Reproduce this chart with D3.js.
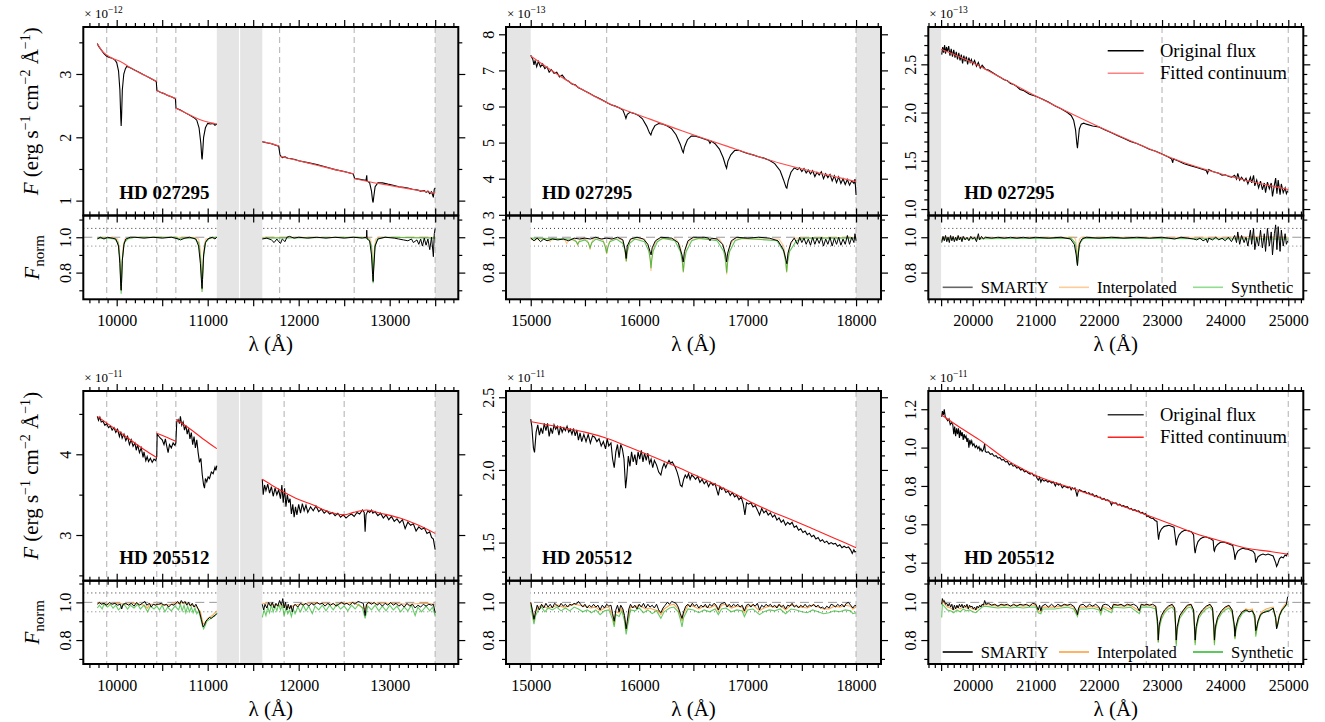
<!DOCTYPE html>
<html>
<head>
<meta charset="utf-8">
<script src="https://cdn.jsdelivr.net/npm/d3@7"></script>
<style>
body { margin: 0; background: #fff; }
svg { font-family: "Liberation Serif", "DejaVu Serif", serif; }
</style>
</head>
<body>
<svg id="chart" width="1325" height="722"></svg>
<script>
// ---- Data (wavelength in Angstrom, flux in units of the panel exponent) ----
var stars = ["HD 027295", "HD 205512"];
var exponents = [["−12", "−13", "−13"], ["−11", "−11", "−11"]];
var colTicks = [[10000, 11000, 12000, 13000], [15000, 16000, 17000, 18000], [20000, 21000, 22000, 23000, 24000, 25000]];
var grayBands = [[[11100, 11350], [11350, 11600], [13500, 13760]], [[14760, 15000], [18000, 18240]], [[19290, 19500]]];
var dashLines = [
  [[9890, 10440, 10650, 11790, 12610, 13500], [15700, 18000], [21000, 23000, 25000]],
  [[9890, 10440, 10650, 11840, 12500, 13500], [15700, 18000], [21000, 22750, 25000]]
];
var legendTop = ["Original flux", "Fitted continuum"];
var legendBottom = ["SMARTY", "Interpolated", "Synthetic"];

// HD 027295, 9800-13500
var r1c1Flux = [[9787,3.48],[9800,3.44],[9830,3.38],[9860,3.32],[9890,3.28],[9920,3.26],[9950,3.25],[9980,3.22],[10000,3.18],[10020,3.05],[10035,2.75],[10045,2.30],[10049,2.18],[10053,2.30],[10062,2.75],[10078,3.00],[10095,3.08],[10110,3.12],[10130,3.11],[10160,3.09],[10200,3.06],[10240,3.03],[10280,3.00],[10320,2.97],[10360,2.94],[10400,2.91],[10435,2.88],[10442,2.74],[10480,2.71],[10520,2.69],[10560,2.66],[10600,2.64],[10645,2.61],[10652,2.46],[10700,2.43],[10750,2.39],[10800,2.35],[10850,2.31],[10880,2.27],[10905,2.15],[10925,1.90],[10935,1.68],[10939,1.65],[10944,1.75],[10955,2.00],[10975,2.15],[11000,2.22],[11030,2.21],[11060,2.22],[11080,2.19],[11100,2.21], null,
  [11600,1.93],[11630,1.92],[11660,1.91],[11700,1.90],[11740,1.88],[11780,1.86],[11795,1.72],[11820,1.68],[11850,1.69],[11880,1.67],[11920,1.66],[11960,1.65],[12000,1.63],[12100,1.60],[12200,1.57],[12300,1.53],[12400,1.49],[12500,1.46],[12600,1.42],[12615,1.35],[12660,1.34],[12700,1.33],[12740,1.32],[12748,1.40],[12752,1.31],[12780,1.28],[12800,1.15],[12812,1.00],[12818,0.97],[12824,1.05],[12840,1.22],[12870,1.28],[12920,1.28],[12980,1.26],[13050,1.24],[13100,1.22],[13150,1.21],[13200,1.20],[13250,1.18],[13300,1.17],[13340,1.15],[13380,1.16],[13400,1.13],[13420,1.15],[13440,1.11],[13460,1.14],[13480,1.05],[13490,1.18],[13500,1.20]];
var r1c1Cont = [[9787,3.48],[9830,3.38],[9890,3.30],[9950,3.25],[10050,3.19],[10150,3.10],[10250,3.02],[10350,2.95],[10440,2.88], null, [10440,2.74],[10550,2.67],[10650,2.61], null, [10650,2.46],[10750,2.39],[10850,2.32],[10950,2.26],[11100,2.21], null, [11600,1.93],[11700,1.90],[11790,1.86], null, [11790,1.70],[12000,1.63],[12200,1.56],[12400,1.49],[12610,1.42], null, [12610,1.35],[12800,1.29],[13000,1.24],[13200,1.19],[13500,1.12]];
var r1c1Smarty = [[9787,0.99],[9820,1.0],[9860,0.99],[9900,1.0],[9950,0.995],[9990,0.99],[10020,0.95],[10035,0.85],[10045,0.72],[10049,0.70],[10053,0.74],[10062,0.87],[10080,0.96],[10100,0.99],[10150,1.0],[10200,1.0],[10300,0.995],[10400,1.0],[10500,0.995],[10600,1.0],[10680,0.99],[10700,0.985],[10750,0.995],[10800,1.0],[10870,0.99],[10900,0.95],[10920,0.85],[10933,0.74],[10938,0.71],[10943,0.76],[10955,0.90],[10975,0.97],[11000,0.99],[11050,1.0],[11080,0.99],[11100,1.0], null,
  [11600,0.99],[11650,0.995],[11700,0.985],[11730,0.97],[11760,0.99],[11780,0.975],[11800,0.965],[11820,0.99],[11850,0.975],[11870,1.0],[11900,1.005],[11950,0.995],[12000,1.0],[12100,0.995],[12200,1.0],[12300,0.995],[12400,1.0],[12500,0.995],[12600,1.0],[12700,0.995],[12745,1.0],[12748,1.04],[12752,0.99],[12780,0.98],[12800,0.9],[12812,0.79],[12818,0.75],[12824,0.82],[12840,0.95],[12870,0.99],[12950,1.0],[13050,0.995],[13100,0.99],[13150,0.985],[13200,0.98],[13240,0.99],[13260,0.97],[13300,0.985],[13320,0.96],[13340,0.99],[13360,0.95],[13380,0.995],[13400,0.955],[13420,0.99],[13440,0.93],[13460,1.0],[13480,0.89],[13490,1.02],[13500,1.05]];
var r1c1Interp = [[9787,0.995],[9950,1.0],[10010,0.99],[10030,0.94],[10042,0.80],[10049,0.70],[10056,0.80],[10068,0.94],[10090,0.99],[10200,1.0],[10850,1.0],[10900,0.99],[10920,0.93],[10932,0.80],[10938,0.70],[10944,0.80],[10956,0.93],[10978,0.99],[11100,1.0], null, [11600,1.0],[12760,1.0],[12790,0.99],[12805,0.93],[12813,0.82],[12818,0.76],[12823,0.82],[12831,0.93],[12846,0.99],[12880,1.0],[13500,1.0]];
var r1c1Synth = [[9787,0.995],[9900,0.995],[9980,0.99],[10015,0.97],[10035,0.88],[10044,0.76],[10049,0.68],[10054,0.76],[10063,0.88],[10083,0.97],[10120,0.99],[10200,1.0],[10660,1.0],[10680,0.985],[10700,0.995],[10850,0.995],[10900,0.97],[10922,0.88],[10933,0.76],[10938,0.69],[10943,0.76],[10954,0.88],[10976,0.97],[11020,0.995],[11100,1.0], null, [11600,0.995],[12700,1.0],[12770,0.99],[12800,0.95],[12811,0.85],[12818,0.74],[12825,0.85],[12836,0.95],[12866,0.99],[12950,1.0],[13500,0.995]];

// HD 027295, 15000-18000
var r1c2Flux = [[15000,7.42],[15020,7.30],[15030,7.15],[15040,7.28],[15055,7.10],[15070,7.25],[15090,7.10],[15110,7.18],[15130,7.05],[15150,7.10],[15170,6.95],[15190,7.02],[15215,6.92],[15240,6.95],[15265,6.82],[15290,6.87],[15320,6.75],[15350,6.70],[15380,6.62],[15410,6.60],[15440,6.52],[15470,6.48],[15500,6.43],[15540,6.37],[15580,6.30],[15620,6.24],[15660,6.18],[15700,6.11],[15740,6.05],[15780,6.01],[15820,5.96],[15850,5.90],[15868,5.76],[15878,5.67],[15890,5.78],[15915,5.84],[15950,5.81],[15990,5.76],[16030,5.66],[16070,5.45],[16095,5.27],[16108,5.21],[16120,5.33],[16145,5.47],[16180,5.53],[16220,5.51],[16260,5.46],[16300,5.38],[16340,5.22],[16380,4.95],[16400,4.76],[16407,4.72],[16418,4.88],[16445,5.08],[16480,5.18],[16520,5.18],[16560,5.14],[16600,5.10],[16640,5.06],[16653,4.98],[16665,5.04],[16700,4.97],[16740,4.82],[16775,4.58],[16795,4.38],[16806,4.29],[16818,4.48],[16845,4.66],[16880,4.78],[16920,4.79],[16960,4.74],[17000,4.70],[17050,4.66],[17100,4.61],[17150,4.57],[17200,4.51],[17250,4.42],[17300,4.22],[17330,3.98],[17355,3.76],[17362,3.74],[17375,3.95],[17400,4.18],[17430,4.30],[17460,4.25],[17480,4.30],[17500,4.20],[17520,4.28],[17540,4.16],[17560,4.24],[17580,4.13],[17600,4.22],[17620,4.06],[17640,4.18],[17660,4.10],[17680,4.19],[17700,4.00],[17720,4.14],[17740,4.03],[17760,4.12],[17780,3.94],[17800,4.08],[17820,3.89],[17840,4.05],[17860,3.87],[17880,4.00],[17900,3.84],[17920,3.98],[17940,3.82],[17960,3.94],[17980,3.87],[17990,3.99],[18000,3.55]];
var r1c2Cont = [[15000,7.40],[15350,6.69],[15700,6.11],[16100,5.65],[16400,5.32],[16800,4.91],[17300,4.43],[17700,4.13],[18000,3.92]];
var r1c2Smarty = [[15000,0.995],[15030,0.98],[15060,0.995],[15090,0.975],[15120,0.99],[15150,0.98],[15200,0.99],[15250,0.985],[15300,0.99],[15350,0.98],[15400,0.995],[15450,0.99],[15500,0.995],[15550,0.99],[15600,1.0],[15650,0.99],[15700,0.995],[15750,0.99],[15800,1.0],[15850,0.985],[15870,0.93],[15880,0.88],[15890,0.95],[15920,0.99],[15980,1.0],[16040,0.99],[16080,0.96],[16100,0.92],[16110,0.90],[16120,0.94],[16150,0.98],[16200,1.0],[16300,0.995],[16360,0.97],[16395,0.90],[16406,0.86],[16418,0.92],[16450,0.98],[16500,1.0],[16600,1.0],[16640,0.995],[16653,0.98],[16665,0.995],[16720,0.99],[16770,0.96],[16798,0.90],[16806,0.86],[16816,0.91],[16850,0.98],[16900,1.0],[17000,0.995],[17100,1.0],[17200,0.995],[17280,0.98],[17330,0.93],[17355,0.87],[17362,0.85],[17372,0.91],[17400,0.97],[17430,0.995],[17460,0.96],[17480,1.0],[17500,0.97],[17520,0.995],[17540,0.96],[17560,0.99],[17580,0.955],[17600,1.0],[17620,0.96],[17640,0.995],[17660,0.965],[17680,1.0],[17700,0.95],[17720,0.99],[17740,0.96],[17760,1.0],[17780,0.95],[17800,0.995],[17820,0.96],[17840,1.0],[17860,0.955],[17880,0.99],[17900,0.96],[17920,1.01],[17940,0.96],[17960,1.0],[17980,0.97],[17990,1.02],[18000,0.98]];
var r1c2Interp = [[15000,0.99],[15030,0.985],[15040,0.98],[15050,0.99],[15100,0.99],[15165,0.985],[15178,0.975],[15190,0.985],[15250,0.99],[15315,0.985],[15332,0.965],[15348,0.985],[15410,0.985],[15425,0.97],[15433,0.955],[15441,0.97],[15460,0.99],[15520,0.985],[15538,0.96],[15547,0.93],[15556,0.96],[15575,0.99],[15660,0.99],[15685,0.96],[15700,0.905],[15715,0.96],[15745,0.99],[15840,0.99],[15862,0.95],[15876,0.89],[15881,0.86],[15886,0.89],[15900,0.95],[15925,0.99],[16050,0.99],[16085,0.95],[16102,0.87],[16109,0.81],[16116,0.87],[16133,0.95],[16170,0.99],[16340,0.99],[16380,0.95],[16400,0.86],[16407,0.80],[16414,0.86],[16434,0.95],[16475,0.99],[16740,0.99],[16780,0.95],[16800,0.86],[16807,0.79],[16814,0.86],[16834,0.95],[16875,0.99],[17290,0.99],[17333,0.95],[17353,0.86],[17360,0.80],[17367,0.86],[17387,0.95],[17430,0.995],[18000,1.0]];
var r1c2Synth = [[15000,0.995],[15380,0.99],[15420,0.975],[15433,0.96],[15446,0.975],[15500,0.985],[15530,0.97],[15547,0.94],[15564,0.97],[15600,0.99],[15670,0.975],[15690,0.94],[15700,0.91],[15710,0.94],[15730,0.975],[15790,0.99],[15850,0.965],[15872,0.92],[15881,0.865],[15890,0.92],[15912,0.965],[15960,0.99],[16050,0.975],[16090,0.92],[16103,0.87],[16109,0.825],[16115,0.87],[16128,0.92],[16168,0.975],[16220,0.995],[16330,0.98],[16380,0.92],[16398,0.86],[16407,0.805],[16416,0.86],[16434,0.92],[16484,0.98],[16550,0.995],[16720,0.98],[16780,0.92],[16798,0.86],[16807,0.80],[16816,0.86],[16834,0.92],[16884,0.98],[16950,0.995],[17270,0.98],[17333,0.92],[17351,0.86],[17360,0.805],[17369,0.86],[17387,0.92],[17450,0.98],[17520,0.995],[18000,0.995]];

// HD 027295, 19500-25000
var r1c3Flux = [[19510,2.60],[19525,2.68],[19540,2.62],[19555,2.70],[19570,2.61],[19585,2.68],[19600,2.63],[19620,2.69],[19640,2.59],[19660,2.66],[19680,2.58],[19700,2.65],[19720,2.57],[19740,2.63],[19760,2.55],[19780,2.62],[19800,2.54],[19820,2.60],[19840,2.51],[19860,2.59],[19880,2.53],[19900,2.58],[19920,2.50],[19940,2.57],[19960,2.52],[19980,2.55],[20000,2.50],[20030,2.54],[20060,2.48],[20090,2.52],[20120,2.46],[20150,2.49],[20200,2.45],[20250,2.44],[20300,2.42],[20350,2.40],[20400,2.38],[20450,2.36],[20500,2.34],[20550,2.33],[20600,2.30],[20650,2.29],[20700,2.27],[20750,2.24],[20800,2.23],[20850,2.21],[20900,2.19],[20950,2.18],[21000,2.17],[21100,2.14],[21200,2.11],[21300,2.07],[21400,2.04],[21500,2.00],[21560,1.97],[21600,1.92],[21630,1.82],[21650,1.68],[21660,1.63],[21670,1.70],[21690,1.83],[21720,1.88],[21760,1.89],[21800,1.88],[21900,1.86],[22000,1.85],[22100,1.82],[22200,1.79],[22300,1.76],[22400,1.73],[22500,1.70],[22600,1.68],[22700,1.65],[22800,1.62],[22900,1.60],[23000,1.57],[23100,1.54],[23150,1.52],[23170,1.48],[23180,1.52],[23250,1.50],[23350,1.47],[23450,1.45],[23550,1.43],[23650,1.41],[23700,1.40],[23720,1.37],[23740,1.41],[23800,1.39],[23900,1.37],[23950,1.35],[24000,1.355],[24050,1.34],[24100,1.33],[24150,1.35],[24180,1.31],[24200,1.37],[24230,1.30],[24260,1.33],[24300,1.29],[24330,1.32],[24360,1.26],[24400,1.33],[24420,1.27],[24450,1.35],[24470,1.24],[24500,1.30],[24530,1.22],[24560,1.29],[24590,1.20],[24620,1.27],[24640,1.17],[24670,1.28],[24700,1.21],[24730,1.27],[24750,1.13],[24780,1.25],[24800,1.32],[24820,1.16],[24840,1.30],[24870,1.15],[24890,1.26],[24920,1.17],[24950,1.22],[24970,1.16],[24990,1.19]];
var r1c3Cont = [[19500,2.656],[20000,2.517],[20500,2.344],[21000,2.171],[21500,2.008],[22000,1.853],[22500,1.707],[23000,1.569],[23500,1.448],[24000,1.352],[24500,1.272],[25000,1.203]];
var r1c3Smarty = [[19510,0.97],[19530,1.005],[19550,0.98],[19570,1.01],[19590,0.975],[19610,1.0],[19630,0.97],[19650,1.01],[19670,0.98],[19690,1.005],[19710,0.975],[19730,1.0],[19750,0.98],[19770,1.01],[19790,0.985],[19810,1.0],[19830,0.975],[19850,1.005],[19880,0.985],[19910,1.0],[19940,0.98],[19970,1.005],[20000,0.99],[20030,1.0],[20060,0.975],[20090,1.02],[20110,0.985],[20140,1.005],[20170,0.99],[20200,1.0],[20300,0.995],[20400,1.0],[20500,0.995],[20600,1.0],[20700,0.995],[20800,1.0],[20900,0.995],[21000,1.0],[21200,0.995],[21400,1.0],[21550,0.99],[21610,0.96],[21640,0.9],[21655,0.85],[21660,0.84],[21668,0.88],[21690,0.96],[21730,0.99],[21800,1.0],[22000,0.995],[22200,1.0],[22400,0.995],[22600,1.0],[22800,0.995],[23000,1.0],[23100,0.995],[23200,0.99],[23300,1.0],[23400,0.995],[23500,0.99],[23550,0.985],[23600,0.995],[23650,0.98],[23700,0.99],[23720,0.97],[23740,0.995],[23800,0.985],[23850,1.0],[23900,0.985],[23950,0.995],[24000,0.98],[24050,1.0],[24100,0.975],[24150,1.01],[24180,0.97],[24200,1.03],[24230,0.96],[24260,1.01],[24300,0.97],[24330,1.0],[24360,0.95],[24400,1.04],[24420,0.96],[24450,1.05],[24470,0.93],[24500,1.0],[24530,0.95],[24560,1.04],[24590,0.94],[24620,1.02],[24640,0.92],[24670,1.05],[24700,0.95],[24730,1.03],[24750,0.90],[24780,1.02],[24800,1.07],[24820,0.93],[24840,1.06],[24870,0.92],[24890,1.04],[24920,0.95],[24950,1.02],[24970,0.96],[24990,0.98]];
var r1c3Interp = [[19500,0.995],[21600,1.0],[21630,0.99],[21648,0.94],[21656,0.88],[21661,0.85],[21666,0.88],[21674,0.94],[21692,0.99],[21720,1.0],[24000,1.0],[24500,1.005],[25000,1.0]];
var r1c3Synth = [[19500,0.98],[19520,0.99],[21560,0.995],[21620,0.97],[21645,0.92],[21655,0.87],[21661,0.84],[21667,0.87],[21677,0.92],[21702,0.97],[21760,0.995],[25000,0.99]];

// HD 205512, 9800-13500
var r2c1Flux = [[9787,4.47],[9800,4.42],[9815,4.46],[9830,4.40],[9850,4.41],[9870,4.36],[9890,4.38],[9910,4.33],[9930,4.35],[9950,4.30],[9970,4.33],[9990,4.27],[10010,4.31],[10030,4.22],[10045,4.28],[10060,4.20],[10080,4.25],[10100,4.17],[10120,4.22],[10140,4.12],[10160,4.18],[10180,4.10],[10200,4.14],[10215,4.05],[10230,4.12],[10250,4.02],[10270,4.08],[10290,3.96],[10300,4.03],[10320,3.92],[10335,3.97],[10350,3.91],[10370,3.95],[10390,3.90],[10410,3.94],[10430,3.92],[10440,3.97],
  [10445,4.25],[10465,4.22],[10480,4.20],[10500,4.18],[10520,4.12],[10535,4.19],[10550,4.10],[10565,4.02],[10580,4.12],[10600,4.08],[10620,4.14],[10640,4.11],[10650,4.14],
  [10660,4.40],[10675,4.43],[10690,4.38],[10700,4.47],[10715,4.36],[10730,4.40],[10745,4.30],[10760,4.36],[10775,4.25],[10790,4.32],[10805,4.19],[10820,4.27],[10835,4.12],[10850,4.22],[10865,4.08],[10880,4.18],[10895,4.02],[10910,3.90],[10925,3.95],[10940,3.75],[10955,3.62],[10965,3.58],[10975,3.70],[10990,3.66],[11005,3.72],[11020,3.70],[11040,3.78],[11060,3.76],[11080,3.84],[11090,3.80],[11100,3.86], null,
  [11600,3.69],[11610,3.50],[11625,3.62],[11640,3.55],[11660,3.63],[11680,3.52],[11700,3.60],[11720,3.48],[11740,3.58],[11760,3.50],[11780,3.56],[11800,3.45],[11815,3.62],[11830,3.40],[11845,3.58],[11860,3.35],[11875,3.50],[11890,3.40],[11905,3.45],[11920,3.26],[11935,3.38],[11950,3.22],[11965,3.35],[11980,3.25],[12000,3.38],[12020,3.27],[12040,3.39],[12060,3.30],[12080,3.37],[12100,3.28],[12130,3.35],[12160,3.30],[12190,3.36],[12220,3.29],[12250,3.32],[12280,3.27],[12310,3.30],[12340,3.26],[12370,3.28],[12400,3.24],[12430,3.27],[12460,3.22],[12490,3.25],[12520,3.21],[12550,3.24],[12580,3.26],[12610,3.23],[12640,3.28],[12670,3.26],[12700,3.31],[12720,3.28],[12730,3.04],[12740,3.25],[12760,3.30],[12780,3.28],[12800,3.31],[12815,3.27],[12840,3.29],[12870,3.24],[12900,3.27],[12930,3.21],[12960,3.25],[12990,3.19],[13020,3.23],[13050,3.17],[13080,3.20],[13110,3.15],[13140,3.19],[13170,3.08],[13200,3.16],[13230,3.12],[13260,3.14],[13290,3.05],[13320,3.10],[13350,3.07],[13380,3.09],[13410,3.02],[13440,3.04],[13460,2.97],[13480,2.95],[13490,2.88],[13500,2.82]];
var r2c1Cont = [[9787,4.47],[9900,4.38],[10000,4.30],[10100,4.22],[10200,4.14],[10300,4.06],[10440,3.96], null, [10440,4.26],[10550,4.21],[10650,4.16], null, [10650,4.43],[10800,4.32],[10950,4.19],[11100,4.07], null, [11600,3.69],[11700,3.62],[11840,3.53],[12000,3.44],[12167,3.37],[12300,3.30],[12500,3.25],[12600,3.28],[12745,3.31],[12900,3.27],[13112,3.21],[13300,3.13],[13500,3.02]];
var r2c1Smarty = [[9787,0.99],[9810,1.0],[9830,0.99],[9860,0.995],[9890,0.985],[9920,1.0],[9950,0.99],[9980,0.995],[10010,0.985],[10040,0.99],[10055,0.965],[10070,0.99],[10100,0.995],[10130,0.985],[10160,0.995],[10190,0.98],[10220,1.0],[10250,0.985],[10280,0.995],[10310,1.005],[10330,0.985],[10360,0.995],[10380,0.975],[10400,0.99],[10430,0.985],[10440,0.99],[10460,0.99],[10490,0.995],[10520,0.985],[10550,0.99],[10570,0.975],[10600,0.99],[10630,0.985],[10650,0.995],[10670,1.005],[10690,0.99],[10710,1.01],[10730,0.995],[10750,1.005],[10770,0.985],[10790,1.0],[10810,0.98],[10830,0.995],[10850,0.975],[10870,0.99],[10890,0.97],[10910,0.95],[10930,0.91],[10950,0.87],[10965,0.88],[10980,0.90],[11000,0.91],[11020,0.92],[11040,0.915],[11060,0.925],[11080,0.93],[11100,0.94], null,
  [11600,0.99],[11615,0.96],[11630,0.99],[11650,0.97],[11670,1.0],[11690,0.98],[11710,1.0],[11730,0.97],[11750,0.995],[11770,0.98],[11790,1.01],[11810,0.985],[11825,1.02],[11840,0.97],[11855,1.0],[11870,0.96],[11885,0.99],[11900,0.965],[11915,0.985],[11930,0.95],[11945,0.98],[11960,0.99],[11990,0.975],[12020,0.995],[12050,0.985],[12080,0.995],[12110,0.98],[12140,0.995],[12170,0.985],[12200,1.0],[12230,0.99],[12260,0.995],[12290,0.98],[12320,0.995],[12350,0.985],[12380,0.995],[12410,0.98],[12440,0.99],[12470,1.0],[12500,0.99],[12530,0.995],[12560,0.985],[12590,1.0],[12620,0.99],[12650,1.005],[12680,1.0],[12710,0.995],[12730,0.93],[12745,0.99],[12770,1.0],[12800,0.99],[12830,1.0],[12860,0.985],[12890,0.995],[12920,0.98],[12950,0.995],[12980,0.985],[13010,1.0],[13040,0.985],[13070,0.995],[13100,0.98],[13130,0.99],[13160,0.975],[13190,0.995],[13220,0.98],[13250,0.99],[13280,0.97],[13310,0.985],[13340,0.975],[13370,0.99],[13400,0.98],[13430,0.99],[13460,0.985],[13480,0.99],[13500,0.945]];
var r2c1Interp = [[9787,0.995],[9900,0.99],[10000,0.995],[10100,0.99],[10200,0.995],[10300,0.985],[10340,0.97],[10360,0.99],[10440,0.99],[10550,0.985],[10650,0.995],[10700,1.0],[10800,0.99],[10880,0.975],[10920,0.95],[10950,0.885],[10970,0.89],[11000,0.915],[11050,0.93],[11100,0.955], null, [11600,0.995],[11700,0.99],[11800,0.98],[11840,0.985],[11900,0.97],[11950,0.985],[12000,0.99],[12200,0.995],[12400,0.99],[12600,1.0],[12730,0.965],[12760,0.995],[13000,0.995],[13200,0.99],[13400,0.995],[13500,0.99]];
var r2c1Synth = [[9787,0.97],[9810,0.985],[9840,0.965],[9860,0.99],[9900,0.975],[9930,0.99],[9960,0.97],[9990,0.985],[10020,0.96],[10050,0.975],[10080,0.99],[10120,0.965],[10150,0.985],[10190,0.97],[10230,0.99],[10260,0.965],[10300,0.985],[10340,0.95],[10370,0.98],[10410,0.965],[10440,0.98],[10470,0.96],[10500,0.985],[10530,0.95],[10560,0.975],[10600,0.955],[10640,0.98],[10680,0.96],[10700,0.99],[10720,0.955],[10740,0.985],[10760,0.945],[10780,0.98],[10800,0.95],[10820,0.975],[10840,0.945],[10860,0.97],[10880,0.94],[10900,0.955],[10920,0.92],[10940,0.88],[10955,0.86],[10970,0.875],[10990,0.9],[11020,0.91],[11050,0.92],[11080,0.93],[11100,0.945], null,
  [11600,0.92],[11620,0.96],[11640,0.93],[11660,0.975],[11680,0.945],[11700,0.985],[11720,0.95],[11740,0.98],[11760,0.955],[11780,0.99],[11800,0.96],[11820,0.985],[11840,0.93],[11860,0.97],[11880,0.94],[11900,0.96],[11920,0.925],[11940,0.965],[11960,0.94],[11990,0.975],[12020,0.95],[12050,0.985],[12080,0.955],[12110,0.98],[12150,0.94],[12180,0.98],[12220,0.96],[12260,0.985],[12300,0.955],[12340,0.985],[12380,0.96],[12420,0.99],[12460,0.965],[12500,0.98],[12540,0.955],[12580,0.985],[12620,0.965],[12660,0.99],[12700,0.97],[12730,0.915],[12760,0.98],[12800,0.96],[12840,0.985],[12880,0.955],[12920,0.98],[12960,0.955],[13000,0.985],[13040,0.96],[13080,0.98],[13120,0.95],[13160,0.975],[13200,0.955],[13240,0.985],[13280,0.93],[13310,0.975],[13350,0.95],[13400,0.98],[13440,0.955],[13470,0.975],[13500,0.93]];

// HD 205512, 15000-18000
var r2c2Flux = [[15000,2.35],[15010,2.30],[15025,2.15],[15035,2.12],[15050,2.26],[15065,2.31],[15080,2.24],[15095,2.29],[15110,2.25],[15125,2.32],[15140,2.27],[15155,2.32],[15170,2.23],[15185,2.29],[15200,2.25],[15215,2.31],[15230,2.28],[15245,2.30],[15260,2.24],[15275,2.30],[15290,2.26],[15305,2.29],[15320,2.27],[15335,2.30],[15350,2.26],[15365,2.28],[15380,2.245],[15395,2.285],[15410,2.235],[15425,2.275],[15440,2.205],[15455,2.255],[15470,2.195],[15490,2.245],[15510,2.195],[15530,2.245],[15550,2.185],[15570,2.235],[15590,2.225],[15610,2.195],[15630,2.215],[15650,2.165],[15670,2.195],[15690,2.145],[15705,2.215],[15720,2.165],[15740,2.185],[15755,2.075],[15770,2.015],[15785,2.125],[15800,2.175],[15815,2.085],[15830,2.175],[15845,2.145],[15860,2.075],[15875,1.875],[15885,1.945],[15900,2.095],[15915,2.025],[15930,2.125],[15945,2.055],[15960,2.105],[15975,2.035],[15990,2.125],[16005,2.075],[16020,2.135],[16035,2.055],[16050,2.115],[16065,2.065],[16080,2.115],[16095,2.045],[16110,2.075],[16125,2.015],[16140,2.065],[16160,2.035],[16180,1.985],[16200,1.965],[16215,2.015],[16230,2.045],[16245,2.015],[16260,2.045],[16275,2.065],[16290,2.045],[16305,2.055],[16320,2.035],[16335,2.015],[16350,1.985],[16365,1.945],[16380,1.895],[16395,1.885],[16410,1.935],[16425,1.965],[16440,1.945],[16455,1.975],[16470,1.935],[16485,1.965],[16500,1.955],[16520,1.935],[16540,1.955],[16560,1.915],[16580,1.935],[16600,1.905],[16620,1.925],[16640,1.885],[16660,1.915],[16680,1.895],[16700,1.905],[16715,1.865],[16730,1.825],[16745,1.885],[16760,1.865],[16780,1.875],[16800,1.845],[16820,1.855],[16840,1.825],[16860,1.845],[16880,1.815],[16900,1.825],[16920,1.795],[16940,1.815],[16960,1.765],[16975,1.69],[16990,1.775],[17010,1.765],[17030,1.775],[17050,1.745],[17070,1.755],[17090,1.725],[17110,1.69],[17130,1.735],[17150,1.705],[17170,1.72],[17190,1.69],[17210,1.705],[17230,1.675],[17250,1.69],[17270,1.655],[17290,1.67],[17310,1.64],[17330,1.655],[17350,1.62],[17370,1.64],[17390,1.625],[17410,1.64],[17430,1.605],[17450,1.615],[17470,1.585],[17490,1.595],[17510,1.57],[17530,1.58],[17550,1.555],[17570,1.565],[17590,1.54],[17610,1.55],[17630,1.525],[17650,1.535],[17670,1.51],[17690,1.52],[17710,1.50],[17730,1.51],[17750,1.49],[17770,1.50],[17790,1.49],[17810,1.495],[17830,1.475],[17850,1.485],[17870,1.465],[17890,1.475],[17910,1.465],[17930,1.47],[17950,1.45],[17965,1.425],[17980,1.45],[17990,1.435],[18000,1.44]];
var r2c2Cont = [[15000,2.333],[15300,2.29],[15500,2.26],[15700,2.218],[15900,2.16],[16100,2.10],[16346,2.022],[16500,1.97],[16714,1.896],[16900,1.83],[17022,1.781],[17200,1.72],[17400,1.659],[17600,1.595],[17800,1.53],[18000,1.465]];
var r2c2Smarty = [[15000,1.0],[15015,0.96],[15030,0.91],[15045,0.95],[15060,0.985],[15080,0.96],[15100,0.99],[15120,0.97],[15140,0.995],[15160,0.975],[15180,0.99],[15200,0.97],[15220,0.995],[15240,0.985],[15260,0.975],[15280,0.995],[15300,0.98],[15320,0.99],[15340,0.975],[15360,0.99],[15380,0.985],[15400,0.995],[15420,0.99],[15440,1.005],[15460,0.99],[15480,0.975],[15500,0.99],[15520,0.97],[15540,0.985],[15560,0.975],[15580,0.99],[15600,0.975],[15620,0.985],[15640,0.96],[15660,0.985],[15680,0.97],[15700,0.99],[15720,0.98],[15740,0.985],[15755,0.94],[15770,0.90],[15785,0.96],[15800,0.985],[15815,0.95],[15830,0.985],[15850,0.965],[15865,0.93],[15880,0.86],[15890,0.9],[15905,0.965],[15920,0.99],[15940,0.97],[15960,0.985],[15980,0.965],[16000,0.99],[16020,0.975],[16040,0.995],[16060,0.97],[16080,0.99],[16100,0.975],[16120,0.985],[16140,0.97],[16160,0.99],[16180,0.96],[16200,0.945],[16220,0.97],[16240,0.985],[16260,1.0],[16280,0.99],[16300,1.005],[16320,1.0],[16340,0.995],[16360,0.975],[16380,0.94],[16395,0.915],[16410,0.95],[16430,0.98],[16450,0.99],[16470,0.975],[16490,0.995],[16510,0.98],[16530,0.99],[16550,0.97],[16570,0.985],[16590,0.975],[16610,0.99],[16630,0.97],[16650,0.99],[16670,0.98],[16690,0.995],[16710,0.985],[16730,0.96],[16750,0.99],[16770,0.995],[16790,1.0],[16810,0.975],[16830,0.99],[16850,0.975],[16870,0.99],[16890,0.98],[16910,0.99],[16930,0.975],[16950,0.985],[16970,0.955],[16990,0.985],[17010,0.99],[17030,0.975],[17050,0.99],[17070,0.98],[17090,0.995],[17110,0.96],[17130,0.985],[17150,0.975],[17170,0.99],[17190,0.98],[17210,0.99],[17230,0.975],[17250,0.985],[17270,0.97],[17290,0.99],[17310,0.975],[17330,0.985],[17350,0.965],[17370,0.985],[17390,0.98],[17410,0.995],[17430,0.975],[17450,0.985],[17470,0.97],[17490,0.985],[17510,0.975],[17530,0.99],[17550,0.975],[17570,0.985],[17590,0.98],[17610,0.99],[17630,0.975],[17650,0.985],[17670,0.97],[17690,0.975],[17710,0.965],[17730,0.98],[17750,0.97],[17770,0.99],[17790,0.985],[17810,0.975],[17830,0.99],[17850,0.98],[17870,0.99],[17890,0.975],[17910,0.995],[17930,1.0],[17950,0.985],[17970,0.97],[17990,0.985],[18000,0.98]];
var r2c2Interp = [[15000,1.0],[15015,0.95],[15030,0.90],[15045,0.95],[15070,0.975],[15100,0.985],[15150,0.97],[15200,0.975],[15250,0.985],[15300,0.975],[15350,0.98],[15400,0.99],[15450,0.985],[15500,0.98],[15550,0.97],[15600,0.975],[15640,0.955],[15680,0.97],[15720,0.975],[15755,0.93],[15770,0.88],[15785,0.95],[15815,0.945],[15840,0.97],[15865,0.92],[15880,0.85],[15895,0.90],[15920,0.975],[15960,0.975],[16000,0.985],[16060,0.965],[16100,0.97],[16140,0.96],[16180,0.955],[16200,0.935],[16230,0.965],[16280,0.985],[16320,0.99],[16360,0.965],[16380,0.93],[16395,0.9],[16410,0.94],[16450,0.985],[16500,0.98],[16550,0.965],[16600,0.98],[16650,0.97],[16700,0.985],[16730,0.955],[16760,0.985],[16800,0.99],[16850,0.97],[16900,0.98],[16950,0.975],[16970,0.945],[17000,0.98],[17050,0.985],[17110,0.955],[17150,0.97],[17200,0.98],[17250,0.975],[17300,0.985],[17350,0.96],[17400,0.985],[17450,0.98],[17500,0.975],[17550,0.97],[17600,0.985],[17650,0.975],[17700,0.965],[17750,0.965],[17800,0.98],[17850,0.975],[17900,0.985],[17950,0.98],[17970,0.965],[18000,0.975]];
var r2c2Synth = [[15000,0.985],[15015,0.93],[15030,0.885],[15045,0.93],[15070,0.96],[15100,0.975],[15130,0.95],[15160,0.97],[15200,0.96],[15240,0.975],[15280,0.955],[15320,0.97],[15360,0.955],[15400,0.975],[15440,0.965],[15480,0.95],[15520,0.96],[15560,0.945],[15600,0.96],[15640,0.935],[15680,0.955],[15720,0.96],[15755,0.91],[15770,0.87],[15785,0.935],[15815,0.925],[15840,0.955],[15865,0.90],[15880,0.83],[15895,0.88],[15920,0.96],[15960,0.955],[16000,0.97],[16040,0.945],[16080,0.96],[16120,0.94],[16160,0.955],[16200,0.915],[16230,0.95],[16280,0.97],[16320,0.975],[16360,0.95],[16380,0.91],[16395,0.87],[16410,0.92],[16450,0.965],[16500,0.96],[16550,0.945],[16600,0.96],[16650,0.95],[16700,0.965],[16730,0.935],[16760,0.965],[16800,0.97],[16850,0.95],[16900,0.96],[16950,0.955],[16970,0.925],[17000,0.96],[17050,0.965],[17110,0.935],[17150,0.95],[17200,0.96],[17250,0.955],[17300,0.965],[17350,0.94],[17400,0.965],[17450,0.96],[17500,0.95],[17550,0.945],[17600,0.96],[17650,0.95],[17700,0.94],[17750,0.945],[17800,0.955],[17850,0.95],[17900,0.96],[17950,0.955],[17970,0.94],[18000,0.945]];

// HD 205512, 19500-25000
var r2c3Flux = [[19509,1.16],[19520,1.19],[19535,1.17],[19550,1.20],[19565,1.16],[19585,1.15],[19605,1.14],[19625,1.15],[19645,1.12],[19665,1.13],[19685,1.12],[19700,1.07],[19715,1.11],[19730,1.06],[19745,1.10],[19760,1.07],[19775,1.10],[19790,1.05],[19805,1.09],[19820,1.06],[19835,1.08],[19850,1.04],[19865,1.07],[19880,1.05],[19895,1.06],[19910,1.03],[19925,1.05],[19940,1.00],[19955,1.04],[19970,1.02],[19985,1.035],[20000,1.01],[20020,1.02],[20040,1.00],[20060,1.01],[20080,0.995],[20100,1.005],[20115,0.985],[20130,0.995],[20150,0.98],[20170,0.99],[20190,1.02],[20200,0.98],[20220,0.975],[20250,0.978],[20280,0.965],[20310,0.968],[20340,0.955],[20370,0.958],[20400,0.945],[20430,0.948],[20460,0.935],[20490,0.938],[20520,0.925],[20550,0.928],[20580,0.91],[20610,0.918],[20640,0.903],[20670,0.907],[20700,0.893],[20730,0.897],[20760,0.883],[20790,0.887],[20820,0.873],[20850,0.877],[20880,0.867],[20910,0.862],[20940,0.866],[20970,0.852],[21000,0.855],[21020,0.84],[21040,0.83],[21060,0.845],[21080,0.82],[21100,0.835],[21130,0.825],[21160,0.83],[21190,0.82],[21220,0.825],[21250,0.815],[21280,0.82],[21310,0.80],[21330,0.815],[21360,0.805],[21390,0.81],[21420,0.79],[21450,0.80],[21480,0.795],[21510,0.79],[21540,0.795],[21560,0.78],[21580,0.79],[21600,0.785],[21620,0.79],[21640,0.765],[21655,0.745],[21670,0.77],[21690,0.78],[21720,0.775],[21750,0.77],[21780,0.772],[21810,0.76],[21840,0.765],[21870,0.755],[21900,0.758],[21930,0.745],[21960,0.75],[21990,0.74],[22020,0.742],[22050,0.73],[22080,0.735],[22110,0.725],[22140,0.728],[22170,0.72],[22200,0.70],[22215,0.715],[22240,0.71],[22270,0.712],[22300,0.70],[22330,0.705],[22360,0.695],[22390,0.698],[22420,0.69],[22450,0.692],[22480,0.68],[22510,0.683],[22540,0.673],[22570,0.676],[22600,0.668],[22630,0.670],[22660,0.66],[22690,0.662],[22720,0.652],[22740,0.655],[22760,0.64],[22780,0.645],[22800,0.637],[22830,0.632],[22860,0.63],[22890,0.62],[22920,0.615],[22935,0.55],[22945,0.52],[22960,0.555],[22990,0.575],[23030,0.588],[23070,0.592],[23110,0.595],[23150,0.59],[23190,0.585],[23215,0.52],[23225,0.49],[23240,0.52],[23270,0.545],[23310,0.56],[23350,0.568],[23390,0.568],[23430,0.565],[23470,0.56],[23500,0.545],[23515,0.47],[23525,0.45],[23540,0.48],[23570,0.51],[23610,0.525],[23650,0.532],[23690,0.535],[23730,0.53],[23770,0.525],[23810,0.515],[23822,0.465],[23830,0.46],[23845,0.48],[23880,0.495],[23920,0.505],[23960,0.508],[24000,0.505],[24040,0.50],[24080,0.495],[24120,0.49],[24145,0.45],[24155,0.415],[24170,0.44],[24200,0.46],[24240,0.47],[24280,0.475],[24320,0.472],[24360,0.47],[24400,0.465],[24440,0.46],[24470,0.445],[24485,0.40],[24495,0.41],[24520,0.43],[24560,0.44],[24600,0.445],[24640,0.44],[24680,0.445],[24720,0.44],[24760,0.435],[24800,0.40],[24815,0.38],[24830,0.39],[24860,0.42],[24890,0.43],[24920,0.425],[24950,0.44],[24970,0.435],[24990,0.45]];
var r2c3Cont = [[19509,1.17],[19800,1.105],[20107,1.04],[20540,0.936],[21016,0.852],[21500,0.797],[21966,0.744],[22400,0.692],[22758,0.649],[23200,0.594],[23550,0.55],[24000,0.507],[24343,0.475],[24700,0.459],[25000,0.444]];
var r2c3Smarty = [[19509,0.99],[19520,1.02],[19535,1.005],[19550,1.01],[19570,0.99],[19590,0.995],[19610,0.98],[19630,0.995],[19650,0.975],[19670,0.99],[19690,0.96],[19710,0.985],[19730,0.965],[19750,0.985],[19770,0.97],[19790,0.99],[19810,0.975],[19830,0.99],[19850,0.97],[19870,0.985],[19890,0.975],[19910,0.99],[19930,0.965],[19950,0.985],[19970,0.975],[19990,0.98],[20010,0.965],[20030,0.975],[20050,0.96],[20070,0.98],[20090,0.97],[20110,0.985],[20130,0.975],[20150,0.99],[20170,0.985],[20190,1.01],[20210,0.99],[20250,0.995],[20300,0.985],[20350,0.99],[20400,0.98],[20450,0.99],[20500,0.985],[20550,0.99],[20600,0.98],[20650,0.99],[20700,0.98],[20750,0.99],[20800,0.985],[20850,0.99],[20900,0.98],[20950,0.995],[21000,0.99],[21040,0.96],[21060,0.985],[21080,0.955],[21100,0.98],[21150,0.99],[21200,0.975],[21250,0.99],[21300,0.975],[21350,0.99],[21400,0.98],[21450,0.99],[21500,0.985],[21550,0.99],[21600,0.98],[21645,0.955],[21660,0.935],[21675,0.965],[21700,0.985],[21750,0.99],[21800,0.975],[21850,0.99],[21900,0.98],[21950,0.99],[22000,0.975],[22030,0.955],[22060,0.985],[22100,0.99],[22150,0.985],[22200,0.965],[22230,0.99],[22300,0.985],[22350,0.99],[22400,0.98],[22450,0.99],[22500,0.985],[22550,0.99],[22600,0.98],[22640,0.955],[22670,0.99],[22720,0.985],[22760,0.99],[22800,0.985],[22850,0.99],[22900,0.98],[22930,0.9],[22940,0.80],[22955,0.88],[22990,0.93],[23040,0.96],[23100,0.98],[23160,0.99],[23200,0.97],[23215,0.88],[23225,0.80],[23240,0.87],[23280,0.93],[23340,0.96],[23400,0.985],[23460,0.99],[23500,0.96],[23515,0.87],[23525,0.80],[23540,0.87],[23580,0.93],[23640,0.96],[23700,0.98],[23760,0.99],[23800,0.97],[23820,0.88],[23830,0.80],[23845,0.87],[23880,0.92],[23940,0.955],[24000,0.975],[24060,0.985],[24110,0.96],[24145,0.88],[24155,0.82],[24170,0.87],[24210,0.92],[24270,0.95],[24330,0.96],[24380,0.95],[24430,0.955],[24470,0.93],[24485,0.85],[24495,0.86],[24520,0.90],[24560,0.935],[24600,0.945],[24650,0.95],[24700,0.955],[24760,0.97],[24800,0.92],[24815,0.86],[24830,0.88],[24860,0.93],[24900,0.96],[24940,0.975],[24970,0.99],[24990,1.03]];
var r2c3Interp = [[19509,0.99],[19530,1.01],[19560,0.99],[19600,0.975],[19650,0.97],[19700,0.96],[19750,0.975],[19800,0.965],[19850,0.975],[19900,0.97],[19950,0.975],[20000,0.965],[20050,0.96],[20100,0.975],[20150,0.985],[20200,0.99],[20300,0.985],[20400,0.98],[20500,0.985],[20600,0.98],[20700,0.985],[20800,0.98],[20900,0.985],[21000,0.985],[21040,0.955],[21080,0.95],[21110,0.975],[21200,0.975],[21300,0.975],[21400,0.98],[21500,0.985],[21600,0.975],[21660,0.935],[21690,0.975],[21800,0.975],[21900,0.98],[22000,0.97],[22030,0.95],[22060,0.98],[22200,0.96],[22230,0.985],[22400,0.98],[22500,0.985],[22640,0.955],[22670,0.985],[22800,0.985],[22900,0.975],[22930,0.88],[22940,0.79],[22955,0.87],[22990,0.92],[23040,0.955],[23100,0.975],[23160,0.985],[23200,0.965],[23215,0.87],[23225,0.78],[23240,0.86],[23280,0.925],[23340,0.955],[23400,0.98],[23460,0.985],[23500,0.955],[23515,0.86],[23525,0.785],[23540,0.86],[23580,0.925],[23640,0.955],[23700,0.975],[23760,0.985],[23800,0.965],[23820,0.87],[23830,0.785],[23845,0.86],[23880,0.915],[23940,0.95],[24000,0.97],[24060,0.98],[24110,0.955],[24145,0.87],[24155,0.81],[24170,0.86],[24210,0.915],[24270,0.95],[24330,0.965],[24380,0.96],[24430,0.965],[24470,0.92],[24485,0.83],[24495,0.85],[24520,0.9],[24560,0.94],[24600,0.955],[24650,0.965],[24700,0.97],[24760,0.975],[24800,0.92],[24815,0.865],[24830,0.885],[24860,0.935],[24900,0.965],[24940,0.985],[24970,0.995],[24990,1.0]];
var r2c3Synth = [[19509,0.92],[19520,0.99],[19560,0.975],[19600,0.96],[19650,0.955],[19700,0.945],[19750,0.96],[19800,0.95],[19850,0.965],[19900,0.955],[19950,0.96],[20000,0.95],[20050,0.945],[20100,0.96],[20150,0.975],[20200,0.98],[20300,0.975],[20400,0.97],[20500,0.975],[20600,0.97],[20700,0.975],[20800,0.97],[20900,0.975],[21000,0.975],[21040,0.945],[21080,0.94],[21110,0.965],[21200,0.965],[21300,0.965],[21400,0.97],[21500,0.975],[21600,0.965],[21660,0.925],[21690,0.965],[21800,0.965],[21900,0.97],[22000,0.96],[22030,0.935],[22060,0.97],[22200,0.945],[22230,0.975],[22400,0.97],[22500,0.975],[22640,0.94],[22670,0.975],[22800,0.975],[22900,0.965],[22930,0.87],[22940,0.786],[22955,0.86],[22990,0.91],[23040,0.945],[23100,0.965],[23160,0.975],[23200,0.955],[23215,0.86],[23225,0.768],[23240,0.85],[23280,0.915],[23340,0.945],[23400,0.97],[23460,0.975],[23500,0.945],[23515,0.85],[23525,0.773],[23540,0.85],[23580,0.915],[23640,0.945],[23700,0.965],[23760,0.975],[23800,0.955],[23820,0.86],[23830,0.773],[23845,0.85],[23880,0.905],[23940,0.94],[24000,0.96],[24060,0.97],[24110,0.945],[24145,0.86],[24155,0.804],[24170,0.85],[24210,0.905],[24270,0.94],[24330,0.955],[24380,0.95],[24430,0.955],[24470,0.91],[24485,0.818],[24495,0.84],[24520,0.89],[24560,0.93],[24600,0.945],[24650,0.955],[24700,0.96],[24760,0.965],[24800,0.91],[24815,0.862],[24830,0.875],[24860,0.925],[24900,0.955],[24940,0.975],[24970,0.985],[24990,0.99]];

// ---- Layout ----
var svg = d3.select("#chart");
var colLeft = [83.3, 506, 928.3];
var boxWidth = 375;
var rowBox = [{top: 27, mid: 215.5, bottom: 299.3}, {top: 391, mid: 580.7, bottom: 664}];
var xDomains = [[9633, 13754], [14772, 18230], [19297, 25238]];
var normDomains = [[0.649, 1.123], [0.673, 1.115]];

// Panel settings: y range, tick steps, label format
var panels = [
  {row: 0, col: 0, flux: r1c1Flux, cont: r1c1Cont, smarty: r1c1Smarty, interp: r1c1Interp, synth: r1c1Synth, yDomain: [0.765, 3.742], major: 1, minor: 0.5, fmt: "d"},
  {row: 0, col: 1, flux: r1c2Flux, cont: r1c2Cont, smarty: r1c2Smarty, interp: r1c2Interp, synth: r1c2Synth, yDomain: [2.981, 8.202], major: 1, minor: 0.5, fmt: "d"},
  {row: 0, col: 2, flux: r1c3Flux, cont: r1c3Cont, smarty: r1c3Smarty, interp: r1c3Interp, synth: r1c3Synth, yDomain: [0.933, 2.887], major: 0.5, minor: 0.1, fmt: ".1f"},
  {row: 1, col: 0, flux: r2c1Flux, cont: r2c1Cont, smarty: r2c1Smarty, interp: r2c1Interp, synth: r2c1Synth, yDomain: [2.434, 4.784], major: 1, minor: 0.5, fmt: "d"},
  {row: 1, col: 1, flux: r2c2Flux, cont: r2c2Cont, smarty: r2c2Smarty, interp: r2c2Interp, synth: r2c2Synth, yDomain: [1.238, 2.543], major: 0.5, minor: 0.1, fmt: ".1f"},
  {row: 1, col: 2, flux: r2c3Flux, cont: r2c3Cont, smarty: r2c3Smarty, interp: r2c3Interp, synth: r2c3Synth, yDomain: [0.306, 1.295], major: 0.2, minor: 0.1, fmt: ".1f"}
];

// Row styles (top row drawn lighter)
var rowStyle = [
  {cont: "#ff4a4a", interp: "rgba(255,160,70,0.6)", synth: "rgba(40,180,40,0.75)", legSmarty: "#666", legInterp: "#ffcc99", legSynth: "#90dc90", legFlux: "#000", legCont: "#ff8080"},
  {cont: "#ff2020", interp: "rgba(255,150,50,0.85)", synth: "rgba(50,185,50,0.75)", legSmarty: "#000", legInterp: "#ffa040", legSynth: "#33bb33", legFlux: "#333", legCont: "#ff2020"}
];

function steps(domain, step, skip) {
  var out = [];
  var start = Math.ceil(domain[0] / step - 1e-9);
  for (var i = start; i * step <= domain[1] + 1e-9; i++) {
    var v = +(i * step).toFixed(6);
    if (skip && Math.abs(v / skip - Math.round(v / skip)) < 1e-6) continue;
    out.push(v);
  }
  return out;
}

function addAxis(g, axis, tx, ty) {
  var a = g.append("g")
    .attr("transform", "translate(" + tx + "," + ty + ")")
    .call(axis);
  a.select(".domain").remove();
  a.selectAll("line").attr("stroke-width", 1.2);
  return a;
}

panels.forEach(function(p) {
  var box = rowBox[p.row];
  var x0 = colLeft[p.col];
  var style = rowStyle[p.row];
  var x = d3.scaleLinear().domain(xDomains[p.col]).range([x0, x0 + boxWidth]);
  var yU = d3.scaleLinear().domain(p.yDomain).range([box.mid, box.top]);
  var yL = d3.scaleLinear().domain(normDomains[p.row]).range([box.bottom, box.mid]);
  var g = svg.append("g");
  var id = "p" + p.row + p.col;

  var defs = g.append("defs");
  defs.append("clipPath").attr("id", id + "u").append("rect")
    .attr("x", x0).attr("y", box.top).attr("width", boxWidth).attr("height", box.mid - box.top);
  defs.append("clipPath").attr("id", id + "l").append("rect")
    .attr("x", x0).attr("y", box.mid).attr("width", boxWidth).attr("height", box.bottom - box.mid);

  // Reference lines in normalised panel
  var xr = x.range();
  g.append("line").attr("x1", xr[0]).attr("x2", xr[1]).attr("y1", yL(1.05)).attr("y2", yL(1.05))
    .attr("stroke", "#333").attr("stroke-dasharray", "1,3");
  g.append("line").attr("x1", xr[0]).attr("x2", xr[1]).attr("y1", yL(0.95)).attr("y2", yL(0.95))
    .attr("stroke", "#777").attr("stroke-dasharray", "1,3");
  g.append("line").attr("x1", xr[0]).attr("x2", xr[1]).attr("y1", yL(1)).attr("y2", yL(1))
    .attr("stroke", "#999").attr("stroke-dasharray", "9,5");

  // Masked regions
  var bands = grayBands[p.col];
  var bg = g.append("g");
  bands.forEach(function(b, i) {
    var a = Math.max(b[0], xDomains[p.col][0]), e = Math.min(b[1], xDomains[p.col][1]);
    bg.append("rect").attr("x", x(a)).attr("y", box.top)
      .attr("width", x(e) - x(a)).attr("height", box.bottom - box.top)
      .attr("fill", "#e5e5e5");
    if (i > 0 && bands[i - 1][1] === b[0]) {
      bg.append("line").attr("x1", x(b[0])).attr("x2", x(b[0]))
        .attr("y1", box.top).attr("y2", box.bottom).attr("stroke", "#fff").attr("stroke-width", 1.2);
    }
  });

  // Segment boundaries
  dashLines[p.row][p.col].forEach(function(v) {
    g.append("line").attr("x1", x(v)).attr("x2", x(v)).attr("y1", box.top).attr("y2", box.bottom)
      .attr("stroke", "#bdbdbd").attr("stroke-width", 1.2).attr("stroke-dasharray", "6,4");
  });

  // Spectra
  var defined = function(d) { return d !== null; };
  var lineU = d3.line().defined(defined).x(function(d) { return x(d[0]); }).y(function(d) { return yU(d[1]); });
  var contU = d3.line().defined(defined).curve(d3.curveMonotoneX).x(function(d) { return x(d[0]); }).y(function(d) { return yU(d[1]); });
  var lineL = d3.line().defined(defined).x(function(d) { return x(d[0]); }).y(function(d) { return yL(d[1]); });

  var gu = g.append("g").attr("clip-path", "url(#" + id + "u)");
  gu.append("path").attr("d", lineU(p.flux)).attr("fill", "none").attr("stroke", "#000").attr("stroke-width", 1.1);
  gu.append("path").attr("d", contU(p.cont)).attr("fill", "none").attr("stroke", style.cont).attr("stroke-width", 1.1);

  var gl = g.append("g").attr("clip-path", "url(#" + id + "l)");
  gl.append("path").attr("d", lineL(p.interp)).attr("fill", "none").attr("stroke", style.interp).attr("stroke-width", 1.1);
  gl.append("path").attr("d", lineL(p.synth)).attr("fill", "none").attr("stroke", style.synth).attr("stroke-width", 1.1);
  gl.append("path").attr("d", lineL(p.smarty)).attr("fill", "none").attr("stroke", "#000").attr("stroke-width", 1);

  // Frames
  g.append("rect").attr("x", x0).attr("y", box.top).attr("width", boxWidth).attr("height", box.mid - box.top)
    .attr("fill", "none").attr("stroke", "#000").attr("stroke-width", 2);
  g.append("rect").attr("x", x0).attr("y", box.mid).attr("width", boxWidth).attr("height", box.bottom - box.mid)
    .attr("fill", "none").attr("stroke", "#000").attr("stroke-width", 2);

  // X ticks on every horizontal edge (outward)
  var xMinor = steps(xDomains[p.col], 100, 500);
  var xMajor = steps(xDomains[p.col], 500);
  [[d3.axisTop, box.top], [d3.axisBottom, box.mid], [d3.axisTop, box.mid], [d3.axisBottom, box.bottom]].forEach(function(e) {
    addAxis(g, e[0](x).tickValues(xMinor).tickSize(4).tickFormat(""), 0, e[1]);
    addAxis(g, e[0](x).tickValues(xMajor).tickSize(7).tickFormat(""), 0, e[1]);
  });
  var xl = addAxis(g, d3.axisBottom(x).tickValues(colTicks[p.col]).tickSize(0).tickFormat(d3.format("d")), 0, box.bottom);
  xl.selectAll("text").attr("y", 27).attr("dy", null).attr("font-size", 16)
    .attr("font-family", "Liberation Serif").attr("fill", "#000");

  // Y ticks, both sides, both panels
  var yuMajor = steps(p.yDomain, p.major);
  var yuMinor = steps(p.yDomain, p.minor, p.major);
  var ylMajor = steps(normDomains[p.row], 0.2);
  var ylMinor = steps(normDomains[p.row], 0.1, 0.2);
  [[yU, yuMinor, yuMajor], [yL, ylMinor, ylMajor]].forEach(function(s) {
    addAxis(g, d3.axisLeft(s[0]).tickValues(s[1]).tickSize(4).tickFormat(""), x0, 0);
    addAxis(g, d3.axisLeft(s[0]).tickValues(s[2]).tickSize(7).tickFormat(""), x0, 0);
    addAxis(g, d3.axisRight(s[0]).tickValues(s[1]).tickSize(4).tickFormat(""), x0 + boxWidth, 0);
    addAxis(g, d3.axisRight(s[0]).tickValues(s[2]).tickSize(7).tickFormat(""), x0 + boxWidth, 0);
  });
  [[yU, yuMajor, d3.format(p.fmt)], [yL, ylMajor, d3.format(".1f")]].forEach(function(s) {
    var a = addAxis(g, d3.axisLeft(s[0]).tickValues(s[1]).tickSize(0).tickFormat(s[2]), x0, 0);
    a.selectAll("text").attr("x", null).attr("dy", null).attr("text-anchor", "middle")
      .attr("transform", "translate(-12,0) rotate(-90)")
      .attr("font-size", 16).attr("font-family", "Liberation Serif").attr("fill", "#000");
  });

  // Exponent label
  var ex = g.append("text").attr("x", x0 + 1).attr("y", box.top - 9).attr("font-size", 13);
  ex.append("tspan").text("× 10");
  ex.append("tspan").attr("dy", -5).attr("font-size", 9.5).text(exponents[p.row][p.col]);

  // Star label
  g.append("text").attr("x", x0 + 36).attr("y", box.mid - 17)
    .attr("font-size", 19).attr("font-weight", "bold").text(stars[p.row]);

  // X axis title
  g.append("text").attr("x", x0 + boxWidth / 2).attr("y", box.bottom + 52)
    .attr("text-anchor", "middle").attr("font-size", 21).text("λ (Å)");

  // Y axis titles (first column only)
  if (p.col === 0) {
    var cy = (box.top + box.mid) / 2 - 10;
    var t = g.append("text").attr("transform", "translate(38," + cy + ") rotate(-90)")
      .attr("text-anchor", "middle").attr("font-size", 21);
    t.append("tspan").attr("font-style", "italic").text("F");
    t.append("tspan").text(" (erg s");
    t.append("tspan").attr("dy", -8).attr("font-size", 14).text("−1");
    t.append("tspan").attr("dy", 8).text(" cm");
    t.append("tspan").attr("dy", -8).attr("font-size", 14).text("−2");
    t.append("tspan").attr("dy", 8).text(" Å");
    t.append("tspan").attr("dy", -8).attr("font-size", 14).text("−1");
    t.append("tspan").attr("dy", 8).text(")");

    var cyl = (box.mid + box.bottom) / 2;
    var tl = g.append("text").attr("transform", "translate(39," + cyl + ") rotate(-90)")
      .attr("text-anchor", "middle").attr("font-size", 21);
    tl.append("tspan").attr("font-style", "italic").text("F");
    tl.append("tspan").attr("dy", 5).attr("font-size", 15).text("norm");
  }

  // Legends (last column only)
  if (p.col === 2) {
    var lx = 1107.7;
    var ly = [box.top + 23.7, box.top + 46.2];
    var lc = [style.legFlux, style.legCont];
    legendTop.forEach(function(name, i) {
      g.append("line").attr("x1", lx).attr("x2", lx + 36).attr("y1", ly[i]).attr("y2", ly[i])
        .attr("stroke", lc[i]).attr("stroke-width", 1.6);
      g.append("text").attr("x", 1160).attr("y", ly[i] + 6).attr("font-size", 18.5).text(name);
    });
    var by = box.bottom - 12;
    var bx = [942.7, 1059, 1193];
    var bc = [style.legSmarty, style.legInterp, style.legSynth];
    legendBottom.forEach(function(name, i) {
      g.append("line").attr("x1", bx[i]).attr("x2", bx[i] + 30).attr("y1", by).attr("y2", by)
        .attr("stroke", bc[i]).attr("stroke-width", 1.6);
      g.append("text").attr("x", bx[i] + 38).attr("y", by + 5.5).attr("font-size", 16.5).text(name);
    });
  }
});
</script>
</body>
</html>
